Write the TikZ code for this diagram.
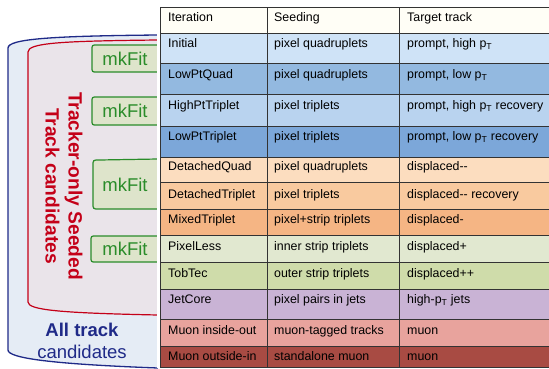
\documentclass[tikz,border=0pt]{standalone}
\usepackage{fontspec}
\setmainfont{Liberation Sans}
\definecolor{allblue}{HTML}{1F2A88}
\definecolor{allfill}{HTML}{E5ECF5}
\definecolor{tored}{HTML}{C40018}
\definecolor{tofill}{HTML}{EAE4EA}
\definecolor{mkgreen}{HTML}{2A8C2A}
\definecolor{mkfill}{HTML}{DEE4CB}
\definecolor{hdr}{HTML}{FFFEF6}
\definecolor{ca}{HTML}{CFE3F7}
\definecolor{cb}{HTML}{93B9E0}
\definecolor{cc}{HTML}{B9D3EF}
\definecolor{cd}{HTML}{7CA7D9}
\definecolor{ce}{HTML}{FCDDBF}
\definecolor{cf}{HTML}{F9CA9F}
\definecolor{cg}{HTML}{F5B584}
\definecolor{ch}{HTML}{E1E8D0}
\definecolor{ci}{HTML}{CFDCAA}
\definecolor{cj}{HTML}{C9B3D5}
\definecolor{ck}{HTML}{E8A39D}
\definecolor{cl}{HTML}{A84B43}
\begin{document}
\begin{tikzpicture}[x=1pt,y=-1pt,
  cell/.style={anchor=base west, inner sep=0pt, font=\fontsize{12.4}{14}\selectfont, text=black},
  grid/.style={draw=black!80, line width=0.8pt},
  mkbox/.style={draw=mkgreen, fill=mkfill, line width=1.2pt},
  mktext/.style={text=mkgreen, font=\fontsize{18.5}{20}\selectfont, inner sep=0pt},
  rowfill/.style={fill=#1}]
\useasboundingbox[fill=white] (0,0) rectangle (549,368);
% all track candidates
\path[draw=allblue, fill=allfill, line width=1.3pt] (158,35) .. controls (50,36) and (8,39) .. (8,48) -- (8,350) .. controls (8,358) and (50,364) .. (158,368);
% tracker-only seeded
\path[draw=tored, fill=tofill, line width=1.2pt] (158,40) .. controls (60,41) and (28,43) .. (28,52) -- (28,302) .. controls (28,310) and (60,313) .. (158,315);
% mkFit boxes
\path[mkbox] (158,45) -- (97,45) .. controls (92,45) .. (92,50) -- (92,67) .. controls (92,72) .. (97,72) -- (158,72);
\path[mkbox] (158,97) -- (97,97) .. controls (92,97) .. (92,102) -- (92,120) .. controls (92,125) .. (97,125) -- (158,125);
\path[mkbox] (158,159) -- (99,160) .. controls (93,160) .. (93,166) -- (93,203) .. controls (93,209) .. (99,209) -- (158,209);
\path[mkbox] (158,236) -- (96,236) .. controls (91,236) .. (91,241) -- (91,257) .. controls (91,262) .. (96,262) -- (158,262);
\node[mktext] (mk1) at (125,58.5) {mkFit};
\node[mktext] (mk2) at (125,111) {mkFit};
\node[mktext] (mk3) at (125,184.5) {mkFit};
\node[mktext] (mk4) at (125,249) {mkFit};
\node[text=tored, font=\fontsize{19.2}{23}\selectfont\bfseries, rotate=-90, align=center, inner sep=0pt] (seeded) at (64,186) {Tracker-only Seeded\\Track candidates};
\node[text=allblue, font=\fontsize{18.5}{22}\selectfont, align=center, inner sep=0pt] (all) at (82,341) {{\bfseries All track}\\candidates};
% table
\fill[white] (157,0) rectangle (549,368);
\fill[hdr] (160,7) rectangle (549,33);
\fill[ca] (160,33) rectangle (549,63);
\fill[cb] (160,63) rectangle (549,94);
\fill[cc] (160,94) rectangle (549,126);
\fill[cd] (160,126) rectangle (549,157);
\fill[ce] (160,157) rectangle (549,182);
\fill[cf] (160,182) rectangle (549,209);
\fill[cg] (160,209) rectangle (549,235);
\fill[ch] (160,235) rectangle (549,262);
\fill[ci] (160,262) rectangle (549,289);
\fill[cj] (160,289) rectangle (549,319);
\fill[ck] (160,319) rectangle (549,346);
\fill[cl] (160,346) rectangle (549,367);
\foreach \yy in {7,33,63,94,126,157,182,209,235,262,289,319,346,367}
  \draw[grid] (160,\yy) -- (549,\yy);
\draw[grid] (160,7) -- (160,367);
\draw[grid] (267,7) -- (267,367);
\draw[grid] (399,7) -- (399,367);
% text
\node[cell] (h1) at (168,21.5) {Iteration};
\node[cell] (h2) at (274,21.5) {Seeding};
\node[cell] (h3) at (407,21.5) {Target track};
\node[cell] (a1) at (168,47.5) {Initial};
\node[cell] (a2) at (274,47.5) {pixel quadruplets};
\node[cell] (a3) at (407,47.5) {prompt, high p\textsubscript{T}};
\node[cell] (b1) at (168,78.5) {LowPtQuad};
\node[cell] (b2) at (274,78.5) {pixel quadruplets};
\node[cell] (b3) at (407,78.5) {prompt, low p\textsubscript{T}};
\node[cell] (c1) at (168,109.5) {HighPtTriplet};
\node[cell] (c2) at (274,109.5) {pixel triplets};
\node[cell] (c3) at (407,109.5) {prompt, high p\textsubscript{T} recovery};
\node[cell] (d1) at (168,140.5) {LowPtTriplet};
\node[cell] (d2) at (274,140.5) {pixel triplets};
\node[cell] (d3) at (407,140.5) {prompt, low p\textsubscript{T} recovery};
\node[cell] (e1) at (168,170.5) {DetachedQuad};
\node[cell] (e2) at (274,170.5) {pixel quadruplets};
\node[cell] (e3) at (407,170.5) {displaced-{}-};
\node[cell] (f1) at (168,198.5) {DetachedTriplet};
\node[cell] (f2) at (274,198.5) {pixel triplets};
\node[cell] (f3) at (407,198.5) {displaced-{}- recovery};
\node[cell] (g1) at (168,223.5) {MixedTriplet};
\node[cell] (g2) at (274,223.5) {pixel+strip triplets};
\node[cell] (g3) at (407,223.5) {displaced-};
\node[cell] (i1) at (168,250.5) {PixelLess};
\node[cell] (i2) at (274,250.5) {inner strip triplets};
\node[cell] (i3) at (407,250.5) {displaced+};
\node[cell] (j1) at (168,277.5) {TobTec};
\node[cell] (j2) at (274,277.5) {outer strip triplets};
\node[cell] (j3) at (407,277.5) {displaced++};
\node[cell] (k1) at (168,303.5) {JetCore};
\node[cell] (k2) at (274,303.5) {pixel pairs in jets};
\node[cell] (k3) at (407,303.5) {high-p\textsubscript{T} jets};
\node[cell] (l1) at (168,334.5) {Muon inside-out};
\node[cell] (l2) at (274,334.5) {muon-tagged tracks};
\node[cell] (l3) at (407,334.5) {muon};
\node[cell] (m1) at (168,360.5) {Muon outside-in};
\node[cell] (m2) at (274,360.5) {standalone muon};
\node[cell] (m3) at (407,360.5) {muon};
\end{tikzpicture}
\end{document}
